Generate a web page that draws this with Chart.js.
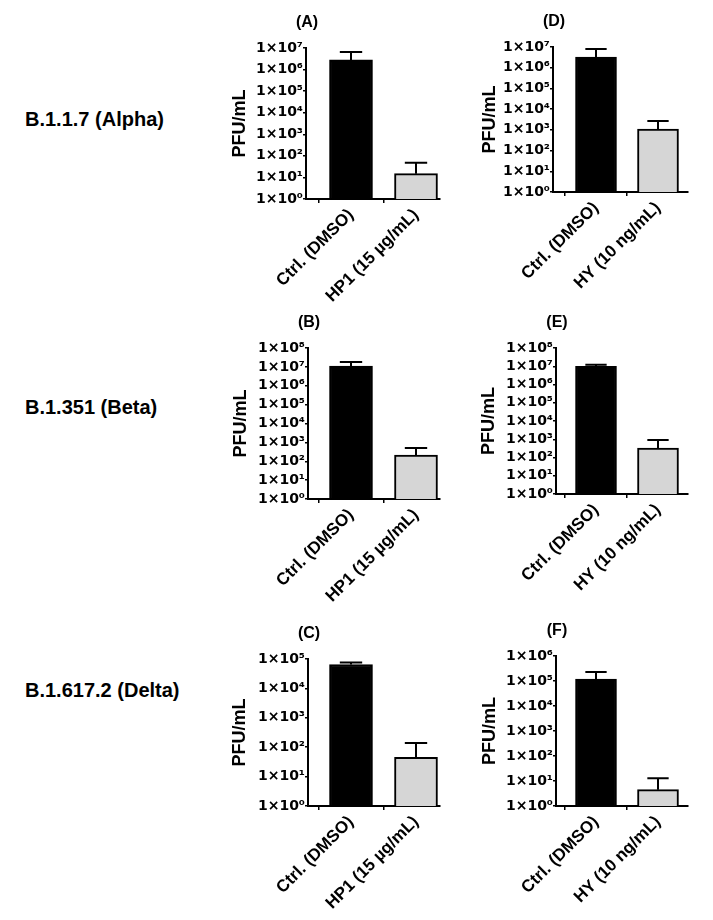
<!DOCTYPE html>
<html>
<head>
<meta charset="utf-8">
<script src="https://cdn.jsdelivr.net/npm/chart.js@4.4.0/dist/chart.umd.min.js"></script>
<style>
  body { margin: 0; background: #fff; width: 713px; height: 920px; position: relative; overflow: hidden;
         font-family: "Liberation Sans", Arial, sans-serif; }
  .row-label { position: absolute; left: 25px; font-weight: bold; font-size: 20px; color: #000;
               transform: translateY(-50%); white-space: nowrap; }
  canvas { position: absolute; }
</style>
</head>
<body>
<script>
const variants = ["B.1.1.7 (Alpha)", "B.1.351 (Beta)", "B.1.617.2 (Delta)"];
const panelLetters = ["(A)", "(B)", "(C)", "(D)", "(E)", "(F)"];
const hp1Labels = ["Ctrl. (DMSO)", "HP1 (15 µg/mL)"];
const hyLabels = ["Ctrl. (DMSO)", "HY (10 ng/mL)"];

// mean PFU/mL and the top of each error bar
const meanA = [2.8e6, 15];   const errA = [6.6e6, 48];
const meanB = [1.1e7, 210];  const errB = [1.8e7, 500];
const meanC = [6.5e4, 45];   const errC = [7.6e4, 140];
const meanD = [3.3e6, 1100]; const errD = [8.0e6, 2700];
const meanE = [1.0e7, 330];  const errE = [1.2e7, 900];
const meanF = [1.2e5, 4.5];  const errF = [2.3e5, 13];

// top tick of each y axis is 1x10^n
const yMaxExp = [7, 8, 5, 7, 8, 6];

// page layout (pixels)
const rowLabelY = [119, 407, 690];
const panels = [
  { labels: hp1Labels, mean: meanA, err: errA, axisX: 306, top: 48,  bottom: 199, right: 440, t1: 351, t2: 416, titleX: 240, bar: 43 },
  { labels: hp1Labels, mean: meanB, err: errB, axisX: 308, top: 348, bottom: 499, right: 440, t1: 351, t2: 416, titleX: 241, bar: 43 },
  { labels: hp1Labels, mean: meanC, err: errC, axisX: 308, top: 659, bottom: 806, right: 440, t1: 351, t2: 416, titleX: 240, bar: 43 },
  { labels: hyLabels,  mean: meanD, err: errD, axisX: 553, top: 47,  bottom: 192, right: 688, t1: 596, t2: 658, titleX: 490, bar: 41 },
  { labels: hyLabels,  mean: meanE, err: errE, axisX: 556, top: 348, bottom: 494, right: 688, t1: 596, t2: 658, titleX: 489, bar: 41 },
  { labels: hyLabels,  mean: meanF, err: errF, axisX: 556, top: 656, bottom: 806, right: 688, t1: 596, t2: 658, titleX: 490, bar: 41 },
];

const SUP = "⁰¹²³⁴⁵⁶⁷⁸⁹";
const FONT = "'Liberation Sans', Arial, sans-serif";
const TICK_FONT = "'DejaVu Sans', sans-serif";

variants.forEach((v, i) => {
  const d = document.createElement("div");
  d.className = "row-label";
  d.style.top = rowLabelY[i] + "px";
  d.textContent = v;
  document.body.appendChild(d);
});

// error bars drawn on top of the bars (upper half only)
const errorBars = {
  id: "errorBars",
  afterDatasetsDraw(chart) {
    const ctx = chart.ctx;
    const y = chart.scales.y;
    const ds = chart.data.datasets[0];
    chart.getDatasetMeta(0).data.forEach((bar, k) => {
      const top = y.getPixelForValue(ds.errTop[k]);
      const cap = bar.width * 0.26;
      ctx.save();
      ctx.strokeStyle = "#000";
      ctx.lineWidth = 2;
      ctx.beginPath();
      ctx.moveTo(bar.x, bar.y);
      ctx.lineTo(bar.x, top);
      ctx.moveTo(bar.x - cap, top);
      ctx.lineTo(bar.x + cap, top);
      ctx.stroke();
      ctx.restore();
    });
  }
};

// panel letter above the y axis
const panelLetter = {
  id: "panelLetter",
  afterDraw(chart, args, opts) {
    const ctx = chart.ctx;
    ctx.save();
    ctx.font = "bold 16px " + FONT;
    ctx.fillStyle = "#000";
    ctx.textAlign = "center";
    ctx.textBaseline = "middle";
    ctx.fillText(opts.text, chart.chartArea.left + 1, chart.chartArea.top - 25);
    ctx.restore();
  }
};

function makePanel(p, i) {
  const left = p.axisX - 110;
  const top = p.top - 40;
  const w = p.right + 12 - left;
  const h = p.bottom + 125 - top;
  const canvas = document.createElement("canvas");
  canvas.width = w;
  canvas.height = h;
  canvas.style.left = left + "px";
  canvas.style.top = top + "px";
  canvas.style.width = w + "px";
  canvas.style.height = h + "px";
  document.body.appendChild(canvas);

  const titleSize = 18;
  const boxLeft = p.titleX - titleSize * 1.2 / 2;
  const yWidth = p.axisX - boxLeft;
  const xHeight = top + h - p.bottom;
  const step = p.t2 - p.t1;
  const xMin = 1 - (p.t1 - p.axisX) / step;
  const xMax = 2 + (p.right - p.t2) / step;
  const exp = yMaxExp[i];

  new Chart(canvas, {
    type: "bar",
    data: {
      datasets: [{
        data: p.mean.map((v, k) => ({ x: k + 1, y: v })),
        errTop: p.err,
        backgroundColor: ["#000000", "#d6d6d6"],
        borderColor: "#000",
        borderWidth: 2,
        barThickness: p.bar,
      }],
    },
    options: {
      responsive: false,
      animation: false,
      layout: { padding: { left: boxLeft - left, top: p.top - top, right: w - (p.right - left), bottom: 0 } },
      plugins: {
        legend: { display: false },
        tooltip: { enabled: false },
        panelLetter: { text: panelLetters[i] },
      },
      scales: {
        x: {
          type: "linear",
          min: xMin,
          max: xMax,
          offset: false,
          afterBuildTicks: (sc) => { sc.ticks = [{ value: 1 }, { value: 2 }]; },
          afterFit: (sc) => { sc.height = xHeight; },
          ticks: {
            callback: (v) => p.labels[Math.round(v) - 1],
            minRotation: 45,
            maxRotation: 45,
            autoSkip: false,
            color: "#000",
            padding: 2,
            font: { family: FONT, size: 17, weight: "bold" },
          },
          grid: { drawOnChartArea: false, color: "#000", tickLength: 4, lineWidth: 1.5 },
          border: { color: "#000", width: 2 },
        },
        y: {
          type: "logarithmic",
          min: 1,
          max: Math.pow(10, exp),
          afterBuildTicks: (sc) => {
            const t = [];
            for (let e = 0; e <= exp; e++) t.push({ value: Math.pow(10, e) });
            sc.ticks = t;
          },
          afterFit: (sc) => { sc.width = yWidth; },
          ticks: {
            callback: (v) => "1×10" + SUP[Math.round(Math.log10(v))],
            color: "#000",
            padding: 0,
            autoSkip: false,
            font: { family: TICK_FONT, size: 14, weight: "bold" },
          },
          title: {
            display: true,
            text: "PFU/mL",
            color: "#000",
            padding: 0,
            font: { family: FONT, size: titleSize, weight: "bold" },
          },
          grid: { drawOnChartArea: false, color: "#000", tickLength: 3, lineWidth: 1.5 },
          border: { color: "#000", width: 2 },
        },
      },
    },
    plugins: [errorBars, panelLetter],
  });
}

panels.forEach(makePanel);
</script>
</body>
</html>
